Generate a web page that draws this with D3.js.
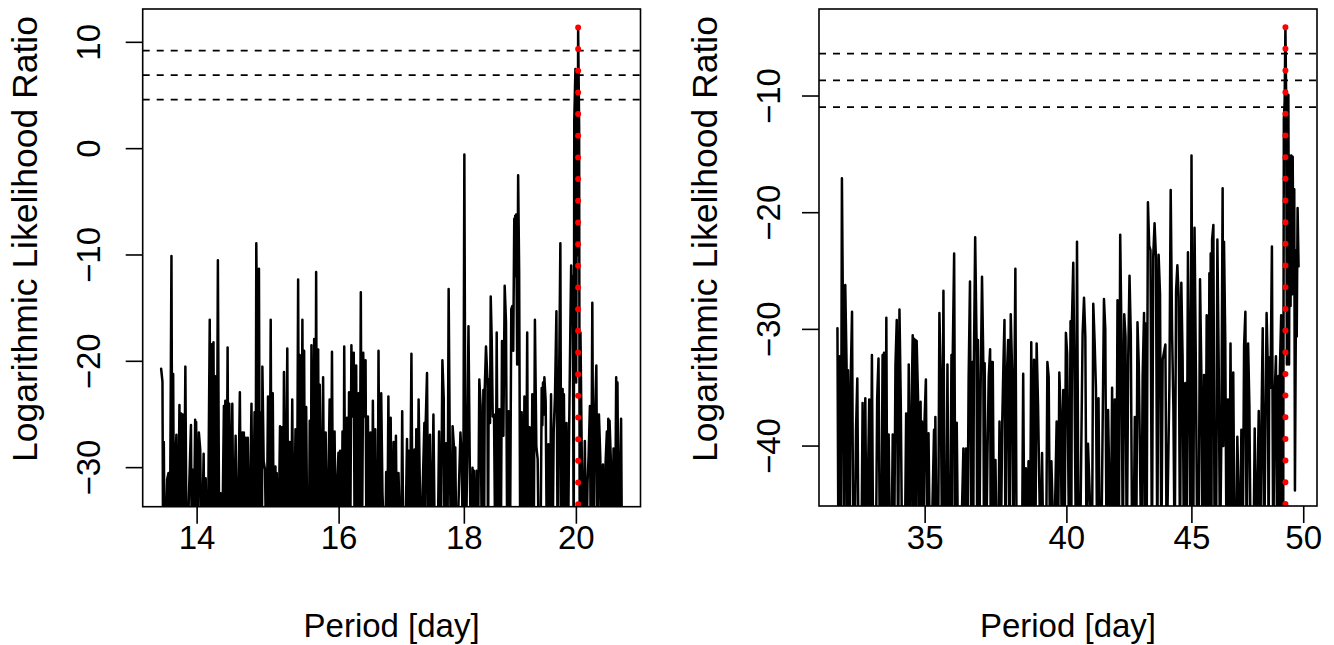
<!DOCTYPE html>
<html><head><meta charset="utf-8">
<script src="https://cdn.jsdelivr.net/npm/d3@7"></script>
<style>
body{margin:0;background:#fff}
svg{display:block}
text{font-family:"Liberation Sans",Arial,Helvetica,sans-serif;fill:#000}
</style>
</head><body>
<svg id="chart" width="1334" height="645"></svg>
<script>
// ---------- data: [period (day), log likelihood ratio] ----------
const leftPoints = [
[13.534,-20.7],[13.551,-21.9],[13.560,-40],[13.568,-27.6],[13.580,-40],[13.611,-31.1],[13.628,-30.5],[13.644,-40],[13.666,-10.1],[13.679,-40],[13.688,-21.2],[13.701,-40],[13.714,-29.4],[13.730,-26.9],[13.747,-40],[13.769,-24.1],[13.782,-40],[13.791,-24.9],[13.800,-40],[13.811,-25.0],[13.824,-40],[13.846,-20.5],[13.863,-40],[13.919,-26.0],[13.932,-40],[13.940,-30.2],[13.952,-40],[13.974,-25.5],[13.981,-40],[13.987,-25.7],
[14.004,-40],[14.023,-26.7],[14.041,-28.3],[14.058,-40],[14.086,-28.7],[14.099,-40],[14.113,-31.0],[14.132,-40],[14.149,-32.0],[14.167,-16.1],[14.181,-40],[14.194,-18.4],[14.208,-40],[14.217,-18.2],[14.231,-40],[14.240,-21.4],[14.258,-40],[14.276,-10.5],[14.295,-40],[14.312,-32.4],[14.330,-40],[14.357,-24.2],[14.366,-40],[14.376,-23.7],[14.390,-40],[14.407,-18.7],[14.421,-40],[14.430,-24],[14.439,-28.3],[14.452,-40],[14.471,-24.0],[14.489,-40],[14.516,-27.0],[14.539,-40],[14.574,-22.9],[14.593,-40],[14.607,-26.7],[14.618,-40],[14.629,-26.7],[14.642,-40],[14.656,-27.2],[14.675,-40],[14.683,-27.2],[14.702,-40],
[14.734,-24.0],[14.753,-40],[14.777,-24.8],[14.791,-40],[14.801,-8.9],[14.815,-19.6],[14.826,-40],[14.838,-11.3],[14.852,-40],[14.872,-24.8],[14.879,-40],[14.886,-20.5],[14.904,-29.4],[14.923,-30.2],[14.943,-40],[14.965,-23.3],[14.985,-40],[15.003,-16.1],[15.017,-40],[15.032,-23.0],[15.050,-40],[15.070,-29.9],[15.080,-40],[15.088,-30.5],[15.107,-40],[15.135,-26.1],[15.149,-40],[15.163,-26.2],[15.177,-40],[15.191,-21.0],[15.211,-40],[15.239,-18.8],[15.253,-40],[15.272,-27.6],[15.290,-40],[15.310,-23.6],[15.329,-40],[15.357,-26.4],[15.376,-40],[15.395,-12.3],[15.410,-40],[15.418,-19.4],
[15.438,-40],[15.457,-16.1],[15.472,-40],[15.482,-19.0],[15.497,-40],[15.512,-24.3],[15.531,-40],[15.550,-40],[15.564,-25.6],[15.579,-40],[15.589,-18.5],[15.608,-40],[15.629,-17.9],[15.644,-40],[15.658,-11.6],[15.673,-40],[15.688,-18.9],[15.702,-40],[15.711,-22.2],[15.732,-40],[15.761,-21.5],[15.780,-40],[15.799,-26.7],[15.820,-40],[15.839,-31.4],[15.858,-23.6],[15.873,-40],[15.893,-19.1],[15.912,-40],[15.932,-26.6],[15.952,-40],[15.971,-31.4],[15.990,-28.6],
[16.005,-40],[16.015,-28.4],[16.036,-40],[16.051,-26.6],[16.067,-40],[16.077,-18.6],[16.098,-40],[16.119,-25.3],[16.135,-40],[16.150,-22.9],[16.166,-40],[16.186,-18.5],[16.201,-25.2],[16.222,-19.2],[16.237,-40],[16.259,-20.4],[16.274,-40],[16.294,-23.0],[16.310,-40],[16.330,-13.5],[16.346,-40],[16.367,-19.2],[16.383,-25.2],[16.403,-19.9],[16.418,-40],[16.439,-25.2],[16.460,-40],[16.480,-26.7],[16.501,-40],[16.516,-23.7],[16.538,-40],[16.553,-26.4],[16.573,-40],[16.589,-40],[16.604,-19.0],[16.624,-40],[16.646,-23.0],[16.666,-32.4],[16.708,-40],[16.724,-30.4],[16.739,-40],[16.759,-23.3],[16.779,-40],[16.795,-25.3],[16.817,-40],[16.841,-27.6],[16.857,-40],[16.878,-27.0],[16.898,-40],[16.919,-30.5],
[16.961,-40],[16.978,-24.7],[16.999,-40],[17.022,-40],[17.055,-27.3],[17.070,-40],[17.082,-28.4],[17.098,-40],[17.126,-19.3],[17.148,-40],[17.176,-28.3],[17.190,-40],[17.204,-26.4],[17.220,-40],[17.242,-23.6],[17.263,-32.0],[17.286,-40],[17.308,-32.0],[17.336,-25.8],[17.345,-40],[17.357,-25.9],[17.379,-21.1],[17.402,-40],[17.428,-26.9],[17.451,-40],[17.484,-25.0],[17.511,-40],[17.550,-40],[17.577,-26.6],[17.604,-40],[17.632,-19.9],[17.654,-23.4],[17.670,-40],[17.692,-27.7],[17.715,-40],[17.736,-13.2],[17.758,-30.2],[17.781,-40],[17.802,-26.1],[17.824,-28.0],[17.835,-40],[17.847,-28.1],[17.869,-40],[17.934,-26.7],[17.956,-29.3],[17.979,-40],[18.000,-0.54],
[18.023,-40],[18.047,-29.5],[18.070,-16.7],[18.092,-29.5],[18.116,-40],[18.139,-30.0],[18.151,-40],[18.162,-30.3],[18.186,-40],[18.209,-30.3],[18.231,-40],[18.255,-21.7],[18.278,-24.2],[18.301,-40],[18.325,-22.7],[18.336,-40],[18.348,-22.7],[18.370,-18.6],[18.395,-21.7],[18.405,-40],[18.417,-21.7],[18.440,-25.8],[18.452,-13.9],[18.469,-17.8],[18.487,-25.2],[18.509,-25.0],[18.534,-40],[18.556,-17.3],[18.579,-40],[18.603,-24.5],[18.626,-40],[18.649,-18.1],[18.673,-27.0],[18.696,-12.9],[18.719,-16.3],[18.743,-40],[18.765,-24.7],[18.788,-40],[18.812,-15.1],[18.830,-14.8],[18.847,-19.0],[18.865,-6.6],[18.873,-10],[18.882,-6.3],[18.891,-12],[18.899,-6.2],[18.917,-20.3],[18.934,-2.5],[18.952,-11.5],
[18.973,-40],[18.997,-24.8],[19.023,-40],[19.046,-23.3],[19.070,-40],[19.096,-17.3],[19.114,-40],[19.138,-26.2],[19.162,-40],[19.188,-23.1],[19.211,-40],[19.235,-16.1],[19.261,-28.0],[19.285,-29.2],[19.309,-40],[19.334,-40],[19.358,-22.5],[19.370,-26],[19.382,-22.0],[19.395,-25],[19.407,-21.5],[19.431,-23.8],[19.455,-40],[19.481,-27.8],[19.505,-40],[19.529,-23.1],[19.554,-40],[19.578,-26.6],[19.602,-23.1],[19.628,-15.3],[19.652,-40],[19.676,-22.6],[19.701,-8.9],[19.719,-40],[19.743,-22.6],[19.756,-40],[19.767,-23.1],[19.792,-40],[19.816,-25.8],[19.840,-40],[19.865,-26.2],[19.890,-15.5],[19.902,-11.0],[19.917,-15.0],[19.932,-12.0],[19.950,-40],[19.960,2.6],[19.982,7.5],[19.996,-22],[20.013,7.2],[20.023,-10],[20.033,11.4],[20.052,2.1],[20.063,-40],[20.077,-17.3],[20.102,-28.9],[20.129,-40],[20.160,-27.5],[20.186,-40],[20.211,-31.4],[20.231,-28.9],[20.256,-24.2],[20.275,-40],[20.302,-14.5],[20.327,-40],[20.352,-25.4],[20.379,-20.4],[20.404,-40],[20.429,-25.0],[20.455,-29.0],[20.481,-40],[20.506,-29.7],[20.533,-40],[20.557,-29.5],[20.582,-26.6],[20.596,-40],[20.609,-25.4],[20.621,-40],[20.634,-25.6],[20.659,-29.3],[20.686,-40],[20.711,-28.2],[20.736,-40],[20.763,-21.5],[20.775,-40],[20.788,-22.0],[20.813,-40],[20.840,-30.1],[20.859,-25.4],[20.878,-40]
];

const rightPoints = [
[32.224,-29.9],[32.255,-50],[32.298,-32.3],[32.329,-50],[32.360,-17.05],[32.400,-31.8],[32.431,-50],[32.462,-26.2],[32.502,-33.0],[32.524,-50],[32.546,-33.5],[32.586,-50],[32.627,-34.6],[32.670,-28.5],[32.709,-50],[32.749,-50],[32.793,-38.6],[32.833,-34.2],[32.873,-50],[32.957,-50],[32.997,-36.3],[33.040,-50],[33.081,-35.9],[33.121,-50],[33.204,-36.0],[33.244,-50],[33.288,-32.2],[33.328,-50],
[33.412,-50],[33.453,-35.9],[33.495,-32.5],[33.540,-50],[33.582,-50],[33.624,-32.2],[33.647,-50],[33.669,-32.0],[33.711,-50],[33.743,-29.0],[33.776,-50],[33.817,-39.0],[33.863,-50],[33.905,-50],[33.947,-39.0],[33.992,-50],[34.034,-33.1],[34.076,-29.2],[34.121,-50],[34.163,-28.3],[34.205,-36.2],[34.250,-50],[34.334,-50],[34.379,-37.2],[34.421,-50],[34.463,-33.0],[34.508,-50],[34.550,-37.3],[34.592,-30.5],[34.614,-50],[34.637,-30.8],[34.658,-50],[34.679,-30.9],[34.701,-50],[34.721,-31.0],[34.766,-35.8],[34.808,-50],[34.850,-36.2],[34.872,-50],[34.894,-37.9],[34.936,-50],[34.977,-38.0],
[35.024,-34.3],[35.068,-50],[35.111,-38.9],[35.159,-50],[35.203,-50],[35.294,-38.6],[35.315,-50],[35.338,-37.5],[35.382,-50],[35.429,-50],[35.473,-28.6],[35.517,-34.1],[35.564,-50],[35.608,-26.7],[35.652,-50],[35.699,-50],[35.743,-33.0],[35.787,-50],[35.834,-50],[35.878,-32.2],[35.901,-50],[35.922,-32.2],[35.969,-23.5],[36.013,-50],[36.057,-38],[36.105,-50],[36.149,-50],[36.193,-50],[36.284,-40.2],[36.328,-50],[36.375,-40.2],[36.419,-50],[36.463,-34.3],[36.510,-25.9],[36.554,-50],[36.598,-32.8],[36.621,-50],[36.645,-32.8],
[36.689,-22.1],[36.735,-30.8],[36.760,-50],[36.785,-30.9],[36.831,-50],[36.877,-35.3],[36.926,-25.5],[36.972,-32.9],[36.997,-50],[37.018,-32.9],[37.068,-50],[37.114,-41.2],[37.160,-34.1],[37.209,-31.7],[37.232,-50],[37.255,-32.8],[37.279,-50],[37.301,-32.8],[37.351,-50],[37.397,-41.2],[37.443,-50],[37.493,-50],[37.539,-37.9],[37.585,-50],[37.634,-38.2],[37.680,-32.8],[37.716,-29.2],[37.751,-50],[37.797,-34.2],[37.847,-30.9],[37.893,-50],[37.939,-28.7],[37.988,-33.5],[38.034,-50],[38.080,-32.2],[38.105,-24.8],[38.151,-50],[38.201,-50],[38.292,-50],[38.342,-50],[38.387,-33.8],[38.433,-50],
[38.484,-41.9],[38.532,-50],[38.580,-41.3],[38.632,-50],[38.680,-31.1],[38.728,-50],[38.780,-32.6],[38.828,-50],[38.876,-31.2],[38.928,-36.5],[38.976,-43.6],[39.024,-50],[39.076,-40.6],[39.124,-50],[39.224,-50],[39.272,-32.8],[39.320,-34.1],[39.372,-50],[39.420,-41.3],[39.519,-50],[39.616,-37.9],[39.668,-50],[39.716,-33.7],[39.764,-37],[39.816,-50],[39.864,-35.2],[39.912,-50],[39.963,-30.3],
[40.011,-32.1],[40.088,-50],[40.138,-29.3],[40.165,-50],[40.191,-29.3],[40.241,-24.3],[40.291,-35.2],[40.345,-50],[40.383,-22.5],[40.444,-50],[40.498,-50],[40.548,-39.8],[40.597,-30.4],[40.651,-27.3],[40.701,-30.6],[40.751,-50],[40.804,-39.8],[40.957,-50],[41.007,-27.8],[41.057,-30.9],[41.110,-35],[41.160,-50],[41.210,-35.9],[41.263,-50],
[41.315,-50],[41.422,-27.4],[41.474,-30.0],[41.526,-50],[41.582,-36.9],[41.685,-50],[41.741,-35.0],[41.793,-50],[41.846,-36.0],[41.902,-50],[41.954,-27.5],[42.006,-50],[42.061,-21.9],[42.113,-30.9],[42.165,-50],[42.221,-28.7],[42.271,-30.6],[42.323,-50],[42.379,-32.6],[42.431,-25.4],[42.483,-30.5],[42.539,-50],[42.590,-50],[42.644,-37.5],[42.699,-50],[42.751,-29.4],[42.803,-33],[42.908,-50],[42.960,-34.0],[43.016,-28.6],[43.040,-50],[43.068,-29.5],[43.119,-50],[43.174,-19.1],[43.226,-22.85],
[43.278,-23.2],[43.337,-50],[43.391,-23.7],[43.445,-20.9],[43.503,-23.9],[43.557,-50],[43.611,-23.6],[43.669,-27],[43.723,-50],[43.777,-32.6],[43.890,-31.3],[43.944,-50],[44.056,-34.9],[44.110,-18.05],[44.168,-30.3],[44.222,-36.8],[44.276,-50],[44.334,-26.7],[44.388,-24.5],[44.442,-27.2],[44.500,-50],[44.554,-26.0],[44.608,-32.5],[44.667,-50],[44.721,-34.6],[44.775,-50],[44.833,-23.4],[44.887,-33.2],[44.942,-50],[44.983,-15.1],
[45.056,-50],[45.112,-21.3],[45.173,-34.3],[45.229,-50],[45.285,-50],[45.346,-25.7],[45.402,-33.7],[45.458,-50],[45.518,-33.9],[45.574,-50],[45.631,-28.8],[45.691,-50],[45.747,-25.2],[45.775,-50],[45.804,-23.5],[45.834,-50],[45.864,-22.3],[45.920,-21.05],[45.976,-50],[46.037,-50],[46.093,-22.3],[46.149,-32.5],[46.209,-50],[46.265,-39.5],[46.322,-17.9],[46.352,-40],[46.382,-22.5],[46.437,-30.9],[46.494,-50],[46.554,-36.0],[46.610,-50],
[46.667,-31.2],[46.730,-50],[46.788,-33.7],[46.847,-50],[46.909,-50],[46.968,-39.2],[47.089,-50],[47.147,-38.6],[47.205,-50],[47.268,-31.4],[47.326,-28.5],[47.384,-50],[47.447,-31.2],[47.505,-36.6],[47.564,-50],[47.684,-50],[47.743,-38.5],[47.805,-50],[47.926,-37.0],[47.989,-50],[48.047,-38.2],[48.105,-29.9],[48.168,-50],[48.281,-28.6],[48.344,-33.9],[48.373,-50],[48.402,-32.4],[48.460,-35.0],
[48.524,-22.9],[48.583,-50],[48.643,-36.2],[48.707,-32.3],[48.766,-50],[48.825,-34.0],[48.857,-50],[48.889,-33.5],[48.949,-28.8],[48.977,-50],[49.008,-28.9],[49.040,-50],[49.072,-12.0],[49.109,-10.5],[49.145,-4.1],[49.177,-9.8],[49.214,-33],[49.246,-10.0],[49.282,-9.9],[49.314,-33],[49.346,-15.1],[49.383,-28],[49.419,-15.1],[49.451,-27],[49.483,-15.2],[49.520,-26],[49.556,-18.0],[49.588,-43.8],[49.648,-23.2],[49.671,-30.6],[49.712,-19.6],[49.757,-24.6]
];

const leftXTicks = [14, 16, 18, 20];
const rightXTicks = [35, 40, 45, 50];
const leftYTicks = [-30, -20, -10, 0, 10];
const rightYTicks = [-40, -30, -20, -10];
const leftThresholds = [9.21, 6.908, 4.605];
const rightThresholds = [-6.36, -8.66, -10.96];
const leftPeak = [20.033, 11.4];
const rightPeak = [49.145, -4.1];
const leftYRange = [-31.94, 11.40];
const rightYRange = [-43.56, -4.12];
const xLabelText = "Period [day]";
const yLabelText = "Logarithmic Likelihood Ratio";

// ---------- layout ----------
const panels = [
  {id:"L", points:leftPoints, xTicks:leftXTicks, yTicks:leftYTicks, thr:leftThresholds, peak:leftPeak, yRange:leftYRange,
   box:{x0:142.7, x1:640.5, y0:9, y1:506.7}, yTickX:100, yLabX:37},
  {id:"R", points:rightPoints, xTicks:rightXTicks, yTicks:rightYTicks, thr:rightThresholds, peak:rightPeak, yRange:rightYRange,
   box:{x0:819, x1:1317, y0:9, y1:506}, yTickX:780, yLabX:717}
];

const svg = d3.select("#chart");
const fmt = v => v < 0 ? "\u2212" + Math.abs(v) : String(v);
const FS = 33;

panels.forEach(p => {
  const b = p.box;
  const ext = d3.extent(p.points, d => d[0]);
  const lx0 = Math.log10(ext[0]), lx1 = Math.log10(ext[1]);
  const dx = (lx1 - lx0) * 0.04;
  const x = d3.scaleLog().domain([Math.pow(10, lx0 - dx), Math.pow(10, lx1 + dx)]).range([b.x0, b.x1]);
  const dy = (p.yRange[1] - p.yRange[0]) * 0.04;
  const y = d3.scaleLinear().domain([p.yRange[0] - dy, p.yRange[1] + dy]).range([b.y1, b.y0]);

  const clipId = "clip" + p.id;
  svg.append("clipPath").attr("id", clipId).append("rect")
    .attr("x", b.x0).attr("y", b.y0).attr("width", b.x1 - b.x0).attr("height", b.y1 - b.y0);
  const g = svg.append("g").attr("clip-path", `url(#${clipId})`);

  const line = d3.line().x(d => x(d[0])).y(d => y(d[1]));
  g.append("path").datum(p.points).attr("d", line)
    .attr("fill", "none").attr("stroke", "#000").attr("stroke-width", 2.5)
    .attr("stroke-linejoin", "round").attr("stroke-linecap", "round");

  g.selectAll("line.thr").data(p.thr).enter().append("line")
    .attr("x1", b.x0).attr("x2", b.x1)
    .attr("y1", d => y(d)).attr("y2", d => y(d))
    .attr("stroke", "#000").attr("stroke-width", 1.7).attr("stroke-dasharray", "7,7");

  g.append("line")
    .attr("x1", x(p.peak[0])).attr("x2", x(p.peak[0]))
    .attr("y1", y(p.peak[1])).attr("y2", b.y1 + 1)
    .attr("stroke", "#ff0000").attr("stroke-width", 6)
    .attr("stroke-linecap", "round").attr("stroke-dasharray", "0,21.67");

  svg.append("rect").attr("x", b.x0).attr("y", b.y0)
    .attr("width", b.x1 - b.x0).attr("height", b.y1 - b.y0)
    .attr("fill", "none").attr("stroke", "#000").attr("stroke-width", 1.6);

  svg.selectAll("line.xt" + p.id).data(p.xTicks).enter().append("line")
    .attr("x1", d => x(d)).attr("x2", d => x(d))
    .attr("y1", b.y1).attr("y2", b.y1 + 17)
    .attr("stroke", "#000").attr("stroke-width", 1.6);
  svg.selectAll("text.xt" + p.id).data(p.xTicks).enter().append("text")
    .attr("x", d => x(d)).attr("y", 549)
    .attr("text-anchor", "middle").attr("font-size", FS).text(fmt);

  svg.selectAll("line.yt" + p.id).data(p.yTicks).enter().append("line")
    .attr("x1", b.x0 - 17).attr("x2", b.x0)
    .attr("y1", d => y(d)).attr("y2", d => y(d))
    .attr("stroke", "#000").attr("stroke-width", 1.6);
  svg.selectAll("text.yt" + p.id).data(p.yTicks).enter().append("text")
    .attr("transform", d => `translate(${p.yTickX},${y(d)}) rotate(-90)`)
    .attr("text-anchor", "middle").attr("font-size", FS).text(fmt);

  svg.append("text").attr("x", (b.x0 + b.x1) / 2).attr("y", 637)
    .attr("text-anchor", "middle").attr("font-size", FS).text(xLabelText);
  svg.append("text")
    .attr("transform", `translate(${p.yLabX},239) rotate(-90)`)
    .attr("text-anchor", "middle").attr("font-size", 35.5).text(yLabelText);
});
</script>
</body></html>
